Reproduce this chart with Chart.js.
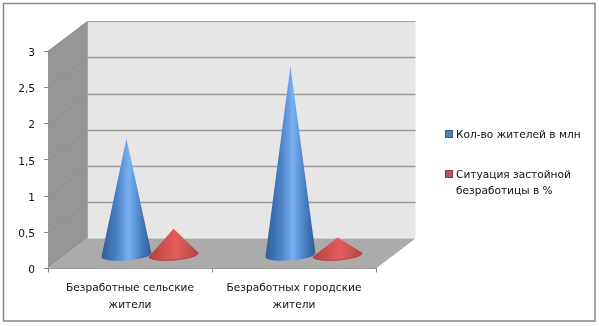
<!DOCTYPE html>
<html lang="ru">
<head>
<meta charset="utf-8">
<title>Безработица</title>
<script src="https://cdn.jsdelivr.net/npm/chart.js@4"></script>
<style>
    html, body { margin: 0; padding: 0; background: #fff; }
    canvas { display: block; }
</style>
</head>
<body>
<canvas id="grafica" width="599" height="326"></canvas>
<script>
const categorias = [['Безработные сельские', 'жители'], ['Безработных городские', 'жители']];
const nombresSeries = [['Кол-во жителей в млн'], ['Ситуация застойной', 'безработицы в %']];
const jitelei = [1.61, 2.61];
const zastoi = [0.37, 0.25];
const ticksY = [0, 0.5, 1, 1.5, 2, 2.5, 3];

const FONT = '10.6px "DejaVu Sans"';
const TEXTO = '#111111';
// depth of the fake 3D box
const DX = 39.5, DY = -30;
const coloresCono = [
    { dark: '#2f5d96', mid: '#4a80c4', light: '#78b0f2', fill: '#4f81bd', line: '#385d8a', rim: null },
    { dark: '#ad4240', mid: '#cc5250', light: '#e25c5a', fill: '#c0504d', line: '#8c3836', rim: '#b84846' }
];

function poligono(ctx, pts, color) {
    ctx.beginPath();
    ctx.moveTo(pts[0][0], pts[0][1]);
    for (let i = 1; i < pts.length; i++) ctx.lineTo(pts[i][0], pts[i][1]);
    ctx.closePath();
    ctx.fillStyle = color;
    ctx.fill();
}

const caja3d = {
    id: 'caja3d',
    beforeDatasetsDraw(chart) {
        const ctx = chart.ctx, a = chart.chartArea, y = chart.scales.y;
        ctx.save();
        // outer frame
        ctx.strokeStyle = '#868686';
        ctx.lineWidth = 1.5;
        ctx.strokeRect(3.5, 3.5, 591.5, 317.5);
        // side wall, back wall, floor
        poligono(ctx, [[a.left, a.top], [a.left + DX, a.top + DY], [a.left + DX, a.bottom + DY], [a.left, a.bottom]], '#969696');
        poligono(ctx, [[a.left + DX, a.top + DY], [a.right + DX, a.top + DY], [a.right + DX, a.bottom + DY], [a.left + DX, a.bottom + DY]], '#e6e6e6');
        poligono(ctx, [[a.left, a.bottom], [a.left + DX, a.bottom + DY], [a.right + DX, a.bottom + DY], [a.right, a.bottom]], '#ababab');
        // gridlines, continued over the side wall
        ticksY.forEach(function (t) {
            if (t === 0) return;
            const py = Math.round(y.getPixelForValue(t)) + 0.5;
            ctx.lineWidth = 0.8;
            ctx.strokeStyle = '#8a8a8a';
            ctx.beginPath();
            ctx.moveTo(a.left, py);
            ctx.lineTo(a.left + DX, py + DY);
            ctx.stroke();
            ctx.lineWidth = t === 3 ? 1 : 1.5;
            ctx.strokeStyle = '#9c9c9c';
            ctx.beginPath();
            ctx.moveTo(a.left + DX, py + DY);
            ctx.lineTo(a.right + DX, py + DY);
            ctx.stroke();
        });
        ctx.strokeStyle = '#a6a6a6';
        ctx.lineWidth = 1;
        ctx.beginPath();
        ctx.moveTo(a.left + DX, a.top + DY);
        ctx.lineTo(a.left + DX, a.bottom + DY);
        ctx.stroke();
        ctx.restore();
    },
    afterDatasetsDraw(chart) {
        const ctx = chart.ctx;
        const giro = -0.08;
        ctx.save();
        chart.data.datasets.forEach(function (ds, d) {
            const c = coloresCono[d];
            chart.getDatasetMeta(d).data.forEach(function (bar) {
                // cones stand in the middle of the box depth
                const cx = bar.x + 20, by = bar.base - 13, ty = bar.y - 13;
                const r = bar.width / 2 + 1.5, ry = 5.5;
                const g = ctx.createLinearGradient(cx - r, 0, cx + r, 0);
                g.addColorStop(0, c.dark);
                g.addColorStop(0.3, c.mid);
                g.addColorStop(0.55, c.light);
                g.addColorStop(0.78, c.mid);
                g.addColorStop(1, c.dark);
                ctx.beginPath();
                ctx.moveTo(cx, ty);
                ctx.lineTo(cx - r * Math.cos(giro), by - r * Math.sin(giro));
                ctx.ellipse(cx, by, r, ry, giro, Math.PI, 0, true);
                ctx.closePath();
                ctx.fillStyle = g;
                ctx.fill();
                if (c.rim) {
                    ctx.beginPath();
                    ctx.ellipse(cx, by - 0.5, r - 0.5, ry, giro, Math.PI, 0, true);
                    ctx.strokeStyle = c.rim;
                    ctx.lineWidth = 1;
                    ctx.stroke();
                }
            });
        });
        ctx.restore();
    },
    afterDraw(chart) {
        // legend, placed to the right of the box
        const ctx = chart.ctx;
        const filas = [134, 174];
        ctx.save();
        ctx.font = FONT;
        ctx.textBaseline = 'middle';
        nombresSeries.forEach(function (lineas, i) {
            const c = coloresCono[i];
            ctx.fillStyle = c.fill;
            ctx.fillRect(445.5, filas[i] - 3.5, 7, 7);
            ctx.strokeStyle = c.line;
            ctx.lineWidth = 1;
            ctx.strokeRect(445.5, filas[i] - 3.5, 7, 7);
            ctx.fillStyle = TEXTO;
            lineas.forEach(function (txt, k) {
                ctx.fillText(txt, 456, filas[i] + 1 + k * 16);
            });
        });
        ctx.restore();
    }
};

const ctx = document.getElementById('grafica').getContext('2d');
const myChart = new Chart(ctx, {
    type: 'bar',
    plugins: [caja3d],
    data: {
        labels: categorias,
        datasets: [
            { label: nombresSeries[0].join(' '), data: jitelei, backgroundColor: 'transparent' },
            { label: nombresSeries[1].join(' '), data: zastoi, backgroundColor: 'transparent' }
        ]
    },
    options: {
        responsive: false,
        animation: false,
        layout: { padding: { left: 8, right: 223, top: 51, bottom: 0 } },
        datasets: { bar: { categoryPercentage: 0.575, barPercentage: 1 } },
        plugins: { legend: { display: false }, tooltip: { enabled: false } },
        scales: {
            x: {
                afterFit: function (s) { s.height = 57.5; },
                grid: { drawOnChartArea: false, tickLength: 4, color: '#868686' },
                border: { color: '#868686' },
                ticks: { color: TEXTO, font: { family: 'DejaVu Sans', size: 10.6, lineHeight: 1.55 }, maxRotation: 0, autoSkip: false, padding: 8 }
            },
            y: {
                min: 0,
                max: 3,
                afterFit: function (s) { s.width = 40; },
                afterBuildTicks: function (s) { s.ticks = ticksY.map(function (v) { return { value: v }; }); },
                grid: { drawOnChartArea: false, tickLength: 4, color: '#868686' },
                border: { color: '#868686' },
                ticks: {
                    color: TEXTO,
                    font: { family: 'DejaVu Sans', size: 10.6 },
                    padding: 9,
                    labelOffset: 2,
                    callback: function (v) { return String(v).replace('.', ','); }
                }
            }
        }
    }
});
</script>
</body>
</html>
